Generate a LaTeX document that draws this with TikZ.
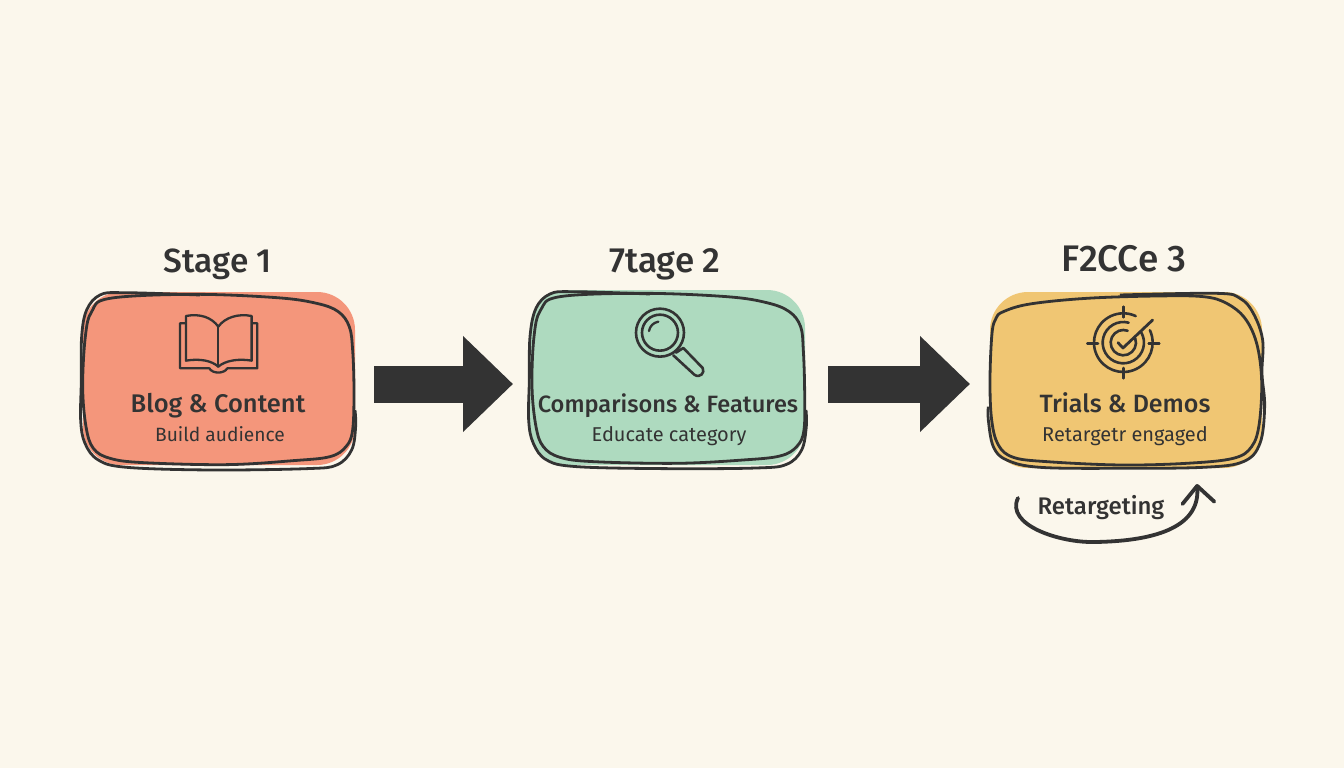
\documentclass[tikz,border=0pt]{standalone}
\usepackage{fontspec}
\setmainfont{Fira Sans}
\newfontfamily\medfont{Fira Sans Medium}
\usetikzlibrary{arrows.meta}
\definecolor{bgc}{HTML}{FBF7EC}
\definecolor{ink}{HTML}{333333}
\definecolor{redc}{HTML}{F4967B}
\definecolor{greenc}{HTML}{AEDABF}
\definecolor{yellowc}{HTML}{F0C673}
\tikzset{
  card/.style={rounded corners=38pt,inner sep=0pt,line width=0pt},
  title/.style={text=ink,font=\fontsize{33.5}{36}\selectfont\medfont,inner sep=0pt,anchor=base},
  head/.style={text=ink,font=\fontsize{25}{28}\selectfont\medfont,inner sep=0pt,anchor=base},
  sub/.style={text=ink,font=\fontsize{20}{24}\selectfont,inner sep=0pt,anchor=base},
  sketch/.style={draw=ink,line width=2.8pt,line join=round},
  icon/.style={draw=ink,line width=2.3pt,line join=round,line cap=round},
  fat/.style={draw=ink,line width=37pt,-{Triangle[length=50pt,width=93pt]}},
  zoomed/.style={x=0.3333pt,y=-0.3333pt}
}
\begin{document}
\begin{tikzpicture}[x=1pt,y=-1pt]
\useasboundingbox (0,0) rectangle (1344,768);
\fill[bgc] (0,0) rectangle (1344,768);
% card fills
\node[card,fill=redc,minimum width=272pt,minimum height=173pt] (card1) at (219,378.5) {};
\node[card,fill=greenc,minimum width=275pt,minimum height=175pt] (card2) at (667.5,377.5) {};
\node[card,fill=yellowc,minimum width=272pt,minimum height=176pt] (card3) at (1126,380) {};
% sketch outlines
\begin{scope}[shift={(60,230)},zoomed]
\draw[sketch] plot[smooth cycle,tension=0.6] coordinates {(150,205)(400,193)(650,203)(770,220)(835,245)(868,290)(878,360)(882,480)(878,600)(858,650)(810,680)(700,692)(500,704)(250,698)(150,685)(100,655)(78,590)(68,470)(76,320)(95,245)};
\draw[sketch] plot[smooth,tension=0.6] coordinates {(420,195)(190,188)(120,195)(80,240)(65,320)(64,450)(62,570)(75,640)(115,690)(200,712)(450,720)(740,716)(830,705)(875,660)(887,590)(885,540)};
\end{scope}
\begin{scope}[shift={(510,230)},zoomed]
\draw[sketch] plot[smooth cycle,tension=0.6] coordinates {(150,200)(400,190)(650,200)(770,218)(838,245)(872,290)(880,360)(884,480)(882,600)(860,650)(810,678)(700,690)(500,700)(250,695)(150,682)(100,650)(78,590)(66,470)(72,320)(92,240)};
\draw[sketch] plot[smooth,tension=0.6] coordinates {(420,192)(190,185)(120,192)(78,235)(60,320)(58,450)(56,570)(70,640)(110,690)(200,710)(470,716)(740,714)(830,703)(875,660)(889,590)(888,540)};
\end{scope}
\begin{scope}[shift={(970,230)},zoomed]
\draw[sketch] plot[smooth cycle,tension=0.6] coordinates {(100,245)(180,222)(350,205)(560,198)(700,200)(770,220)(825,265)(860,340)(875,450)(868,580)(845,650)(790,685)(650,700)(450,705)(230,695)(130,682)(85,645)(65,570)(60,450)(66,310)(78,265)};
\draw[sketch] plot[smooth,tension=0.6] coordinates {(450,195)(740,190)(810,205)(850,250)(878,330)(876,430)(884,530)(870,640)(820,695)(700,712)(450,715)(210,712)(110,690)(70,650)(55,570)(55,530)};
\end{scope}
% book
\begin{scope}[shift={(60,230)},zoomed]
\draw[icon] (378,258) .. controls (420,250) and (455,262) .. (475,290) .. controls (495,262) and (535,250) .. (575,258) -- (575,392) .. controls (535,385) and (495,392) .. (475,410) .. controls (455,392) and (420,385) .. (378,392) -- cycle;
\draw[icon] (475,290) -- (475,410);
\draw[icon] (376,280) -- (360,280) -- (360,415) -- (448,415) .. controls (458,432) and (492,432) .. (502,415) -- (592,415) -- (592,280) -- (577,280);
\end{scope}
% magnifier
\begin{scope}[shift={(510,230)},zoomed]
\draw[icon,line width=2.6pt] (450,308) circle[radius=72];
\draw[icon,line width=2.6pt] (450,308) circle[radius=54];
\draw[icon] (417,303) .. controls (420,288) and (430,278) .. (445,275);
\draw[icon,line width=2.6pt] (498,368) -- (520,354) -- (578,414) .. controls (586,428) and (570,446) .. (553,434) -- (490,376);
\end{scope}
% target
\begin{scope}[shift={(970,230)},zoomed]
\draw[icon,line width=2.6pt] (460+88*0.906,338-88*0.423) arc[start angle=-25,end angle=295,radius=88];
\draw[icon,line width=2.6pt] (460+62*0.866,338-62*0.5) arc[start angle=-30,end angle=285,radius=62];
\draw[icon,line width=2.6pt] (460+38*0.94,338-38*0.342) arc[start angle=-20,end angle=290,radius=38];
\draw[icon,line width=2.6pt] (460,230) -- (460,262) (460,414) -- (460,445) (352,340) -- (384,340) (536,340) -- (568,340);
\draw[icon,line width=2.8pt] (444,338) -- (459,354) -- (548,270);
\end{scope}
% block arrows
\draw[fat] ([shift={(19,5.5)}]card1.east) -- ([shift={(-17,6.5)}]card2.west);
\draw[fat] ([shift={(23,6.5)}]card2.east) -- ([shift={(-20,4)}]card3.west);
% titles
\node[title] (t1) at (218,272) {Stage 1};
\node[title,font=\fontsize{35}{36}\selectfont\medfont] (t2) at (665,272) {7tage 2};
\node[title,font=\fontsize{37}{38}\selectfont\medfont] (t3) at (1124,271) {F2CCe 3};
% labels
\node[head,font=\fontsize{25.5}{28}\selectfont\medfont] (h1) at (218,412) {Blog \& Content};
\node[sub,font=\fontsize{19.2}{24}\selectfont] (s1) at (220,441) {Build audience};
\node[head,font=\fontsize{23.6}{28}\selectfont\medfont] (h2) at (668,412) {Comparisons \& Features};
\node[sub] (s2) at (669,441) {Educate category};
\node[head] (h3) at (1125,412) {Trials \& Demos};
\node[sub] (s3) at (1125,441) {Retargetr engaged};
\node[text=ink,font=\fontsize{24}{28}\selectfont\medfont,inner sep=0pt,anchor=base] (r) at (1101,514) {Retargeting};
% loop
\coordinate (la) at (1018,498);
\coordinate (lb) at (1197,484);
\draw[ink,line width=3.8pt,line cap=round,-{Straight Barb[length=17pt,width=32pt,round]}] (la) .. controls (1005,525) and (1060,543) .. (1095,542) .. controls (1160,541) and (1200,525) .. (lb);
\end{tikzpicture}
\end{document}
